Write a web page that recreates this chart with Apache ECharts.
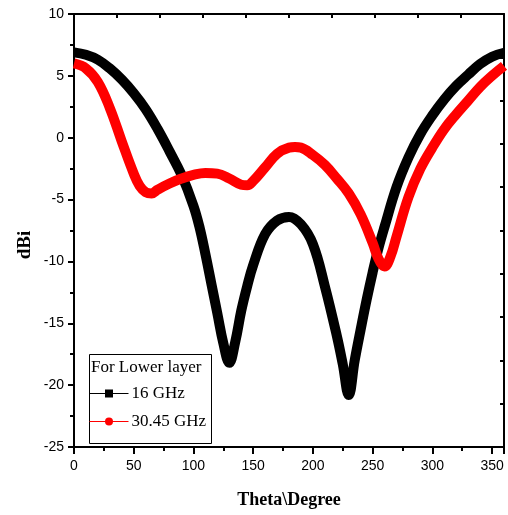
<!DOCTYPE html>
<html>
<head>
<meta charset="utf-8">
<script src="https://cdn.jsdelivr.net/npm/echarts@6/dist/echarts.min.js"></script>
<style>
  html, body { margin: 0; padding: 0; background: #fff; }
</style>
</head>
<body>
<div id="chartPattern" style="width:508px;height:515px"></div>
<script>
  // angles (deg) and gain (dBi)
  var theta16 = [0, 10, 20, 30, 40, 50, 60, 70, 80, 90, 100, 105, 110, 115, 120, 125, 130, 135, 140, 145, 150, 160, 170, 180, 190, 200, 210, 220, 225, 230, 235, 240, 245, 250, 255, 260, 270, 280, 290, 300, 310, 320, 330, 340, 350, 360]
  var gain16 = [6.9, 6.7, 6.3, 5.6, 4.7, 3.6, 2.3, 0.7, -1.1, -3.0, -5.5, -7.2, -9.4, -11.8, -14.2, -16.6, -18.2, -16.5, -14.0, -12.0, -10.3, -7.8, -6.7, -6.4, -7.0, -8.6, -12.0, -16.0, -18.3, -20.8, -18.0, -15.5, -13.1, -10.9, -8.9, -7.2, -4.0, -1.6, 0.3, 1.8, 3.1, 4.2, 5.1, 5.95, 6.55, 6.85]
  var theta30 = [0, 10, 20, 30, 40, 50, 55, 60, 65, 70, 80, 90, 100, 110, 120, 130, 140, 145, 150, 160, 170, 180, 185, 190, 200, 210, 220, 230, 240, 250, 255, 260, 265, 270, 280, 290, 300, 310, 320, 330, 340, 350, 360]
  var gain30 = [6.0, 5.6, 4.5, 2.4, -0.3, -2.9, -3.9, -4.4, -4.5, -4.2, -3.7, -3.3, -3.0, -2.85, -2.9, -3.3, -3.8, -3.85, -3.5, -2.4, -1.3, -0.8, -0.75, -0.8, -1.4, -2.2, -3.3, -4.5, -6.2, -8.5, -9.8, -10.4, -9.6, -8.0, -4.8, -2.5, -0.8, 0.7, 1.9, 3.0, 4.1, 5.0, 5.8]
  var seriesNames = ['16 GHz', '30.45 GHz']

  function pairs (xs, ys) {
    return xs.map(function (x, i) { return [x, ys[i]] })
  }

  var serif = 'Liberation Serif, Times New Roman, serif'
  var chart = echarts.init(document.getElementById('chartPattern'))
  var option = {
    animation: false,
    grid: { left: 74, top: 14, right: 4, bottom: 68 },
    legend: {
      orient: 'vertical',
      left: 89,
      top: 385,
      padding: 0,
      itemWidth: 39,
      itemHeight: 10,
      itemGap: 11,
      data: seriesNames,
      lineStyle: { width: 1 },
      textStyle: { fontFamily: serif, fontSize: 17, color: '#000', padding: [0, 0, 0, -2] }
    },
    graphic: [
      { type: 'rect', left: 87, top: 352, shape: { width: 122, height: 89 }, style: { fill: 'none', stroke: '#000', lineWidth: 1 } },
      { type: 'text', left: 91, top: 359, style: { text: 'For Lower layer', fontFamily: serif, fontSize: 17, fill: '#000' } },
      { type: 'text', x: 25, y: 245, rotation: Math.PI / 2, style: { text: 'dBi', fontFamily: serif, fontWeight: 'bold', fontSize: 19, fill: '#000', align: 'center', verticalAlign: 'middle' } }
    ],
    xAxis: [{
      type: 'value',
      min: 0,
      max: 360,
      interval: 50,
      name: 'Theta\\Degree',
      nameLocation: 'middle',
      nameGap: 44,
      nameTextStyle: { fontFamily: serif, fontWeight: 'bold', fontSize: 18, color: '#000' },
      axisLine: { onZero: false, lineStyle: { color: '#000', width: 2 } },
      axisTick: { length: 7, lineStyle: { width: 2 } },
      minorTick: { show: true, splitNumber: 2, length: 4, lineStyle: { color: '#000', width: 2 } },
      axisLabel: { margin: 12, fontSize: 14, color: '#000', fontFamily: 'Liberation Sans, Arial, sans-serif', showMaxLabel: false },
      splitLine: { show: false }
    }, {
      type: 'value',
      position: 'top',
      min: 0,
      max: 360,
      interval: 36,
      axisLine: { onZero: false, lineStyle: { color: '#000', width: 2 } },
      axisTick: { inside: true, length: 4, lineStyle: { width: 2 } },
      axisLabel: { show: false },
      splitLine: { show: false }
    }],
    yAxis: [{
      type: 'value',
      min: -25,
      max: 10,
      interval: 5,
      axisLine: { onZero: false, lineStyle: { color: '#000', width: 2 } },
      axisTick: { length: 6, lineStyle: { width: 2 } },
      minorTick: { show: true, splitNumber: 2, length: 4, lineStyle: { color: '#000', width: 2 } },
      axisLabel: { margin: 10, fontSize: 14, color: '#000', fontFamily: 'Liberation Sans, Arial, sans-serif' },
      splitLine: { show: false }
    }, {
      type: 'value',
      position: 'right',
      min: -25,
      max: 10,
      interval: 3.5,
      axisLine: { show: true, onZero: false, lineStyle: { color: '#000', width: 2 } },
      axisTick: { show: true, inside: true, length: 4, lineStyle: { width: 2 } },
      axisLabel: { show: false },
      splitLine: { show: false }
    }],
    series: [{
      name: seriesNames[0],
      type: 'line',
      smooth: 0.4,
      symbol: 'rect',
      symbolSize: 8,
      showSymbol: false,
      data: pairs(theta16, gain16),
      lineStyle: { color: '#000', width: 10 },
      itemStyle: { color: '#000' }
    }, {
      name: seriesNames[1],
      type: 'line',
      smooth: 0.4,
      symbol: 'circle',
      symbolSize: 9,
      showSymbol: false,
      data: pairs(theta30, gain30),
      lineStyle: { color: '#ff0000', width: 10 },
      itemStyle: { color: '#ff0000' }
    }]
  }
  chart.setOption(option)
</script>
</body>
</html>
